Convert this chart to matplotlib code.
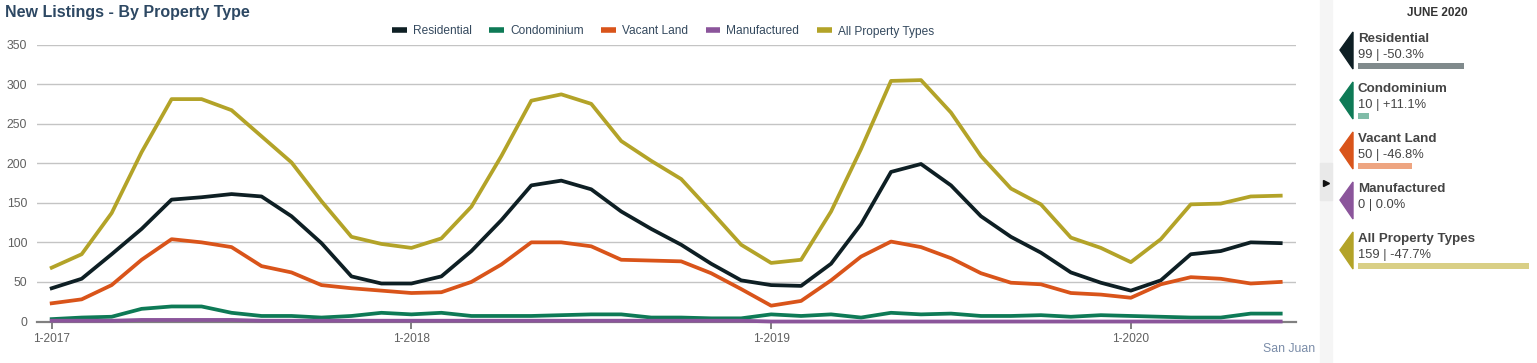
import numpy as np
import matplotlib
matplotlib.use("Agg")
import matplotlib.pyplot as plt
from matplotlib.lines import Line2D
from matplotlib.patches import Polygon, Rectangle

plt.rcParams['font.family'] = ['Liberation Sans', 'DejaVu Sans']

# monthly new listings, 1-2017 .. 6-2020
residential = [42, 54, 85, 117, 154, 157, 161, 158, 133, 99, 57, 48,
               48, 57, 89, 128, 172, 178, 167, 139, 117, 97, 73, 52,
               46, 45, 73, 123, 189, 199, 172, 133, 107, 87, 62, 49,
               39, 52, 85, 89, 100, 99]
condominium = [3, 5, 6, 16, 19, 19, 11, 7, 7, 5, 7, 11,
               9, 11, 7, 7, 7, 8, 9, 9, 5, 5, 4, 4,
               9, 7, 9, 5, 11, 9, 10, 7, 7, 8, 6, 8,
               7, 6, 5, 5, 10, 10]
vacant_land = [23, 28, 46, 78, 104, 100, 94, 70, 62, 46, 42, 39,
               36, 37, 50, 72, 100, 100, 95, 78, 77, 76, 61, 41,
               20, 26, 52, 82, 101, 94, 80, 61, 49, 47, 36, 34,
               30, 47, 56, 54, 48, 50]
manufactured = [1, 1, 1, 2, 2, 2, 2, 1, 1, 1, 1, 1,
                1, 1, 1, 1, 1, 1, 1, 1, 1, 1, 1, 1,
                0, 0, 0, 0, 0, 0, 0, 0, 0, 0, 0, 0,
                0, 0, 0, 0, 0, 0]
all_types = [68, 85, 137, 214, 281, 281, 267, 234, 201, 152, 107, 98,
             93, 105, 145, 209, 279, 287, 275, 228, 203, 180, 139, 97,
             74, 78, 139, 218, 304, 305, 264, 209, 168, 148, 106, 93,
             75, 104, 148, 149, 158, 159]

names = ["Residential", "Condominium", "Vacant Land", "Manufactured", "All Property Types"]
series = [residential, condominium, vacant_land, manufactured, all_types]
pct_change = ["-50.3%", "+11.1%", "-46.8%", "0.0%", "-47.7%"]
year_ticks = [0, 12, 24, 36]
year_labels = ["1-2017", "1-2018", "1-2019", "1-2020"]

colors = ["#0e1f24", "#0e7a56", "#d9541a", "#8b559b", "#b3a328"]
bar_colors = ["#808a8c", "#80bca8", "#eea581", "#c9a6d2", "#d9cf86"]

W, H = 1537, 363
fig = plt.figure(figsize=(W / 100, H / 100), dpi=100)


def fx(px):
    return px / W


def fy(py):
    return 1 - py / H


# main chart
ax = fig.add_axes([fx(37), fy(321.5), fx(1296 - 37), (321.5 - 44.5) / H])
x = np.arange(len(residential))
for vals, c in zip(series, colors):
    ax.plot(x, vals, color=c, lw=2.7, zorder=3, clip_on=False)

ax.set_xlim(-0.49, 41.51)
ax.set_ylim(0, 350)
ax.set_yticks(range(0, 351, 50))
ax.grid(axis='y', color='#c4c4c4', lw=1)
ax.set_axisbelow(True)
for s in ['top', 'right', 'left']:
    ax.spines[s].set_visible(False)
ax.spines['bottom'].set_color('#808080')
ax.spines['bottom'].set_linewidth(1.6)
ax.tick_params(axis='y', length=0, pad=7, labelsize=8.8, labelcolor='#606060')
ax.set_xticks(year_ticks)
ax.set_xticklabels(year_labels)
ax.tick_params(axis='x', length=5, width=1.4, color='#808080', pad=3,
               labelsize=8.6, labelcolor='#606060')

handles = [Line2D([], [], color=c, lw=4, solid_capstyle='butt') for c in colors]
fig.legend(handles, names, loc='center', bbox_to_anchor=(fx(663), fy(31.5)),
           ncol=5, frameon=False, fontsize=8.6, handlelength=1.25,
           handletextpad=0.5, columnspacing=1.45, labelcolor='#34495e')

fig.text(fx(5), fy(12), "New Listings - By Property Type", fontsize=11.5,
         fontweight='bold', color='#2d4863', va='center', ha='left')
fig.text(fx(1315), fy(349), "San Juan", fontsize=8.8, color='#7a8ca8',
         ha='right', va='center')

# side panel separator
fig.patches.append(Rectangle((fx(1320), 0), fx(12), 1, transform=fig.transFigure,
                             color='#f5f5f5', zorder=0))
fig.patches.append(Rectangle((fx(1320), fy(200)), fx(12), 37 / H,
                             transform=fig.transFigure, color='#e9e9e9', zorder=0))
fig.lines.append(Line2D([fx(1326)], [fy(183)], marker='>', ms=4.5, color='#111111',
                        transform=fig.transFigure))

fig.text(fx(1437), fy(13), "JUNE 2020", fontsize=8.5, fontweight='bold',
         color='#333333', ha='center', va='center')

# side panel entries
bar_ax = fig.add_axes([fx(1358), 0, fx(W - 1358), 1])
bar_ax.set_xlim(0, (W - 1358) / 1.075)
bar_ax.set_ylim(H, 0)
bar_ax.axis('off')

for i, (name, vals, c, bc, pc) in enumerate(zip(names, series, colors, bar_colors, pct_change)):
    top = 38 + 50 * i
    tri = Polygon([(fx(1353), fy(top - 6)), (fx(1340), fy(top + 12)), (fx(1353), fy(top + 31))],
                  closed=True, transform=fig.transFigure, color=c)
    fig.patches.append(tri)
    fig.text(fx(1358), fy(top + 1), name, fontsize=9.6, fontweight='bold',
             color='#444444', ha='left', va='center')
    fig.text(fx(1358), fy(top + 17), f"{vals[-1]} | {pc}", fontsize=9.3,
             color='#444444', ha='left', va='center')
    bar_ax.barh(top + 28, vals[-1], height=6, color=bc, align='center')

fig.savefig("out.png", dpi=100)
